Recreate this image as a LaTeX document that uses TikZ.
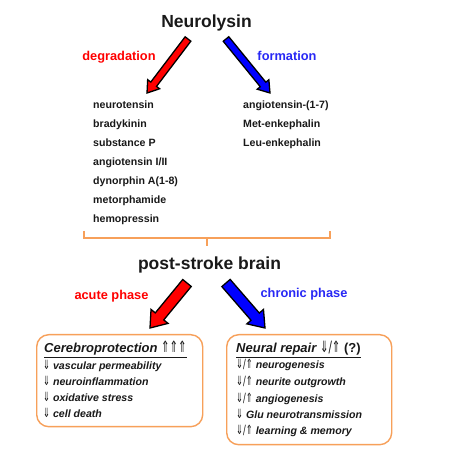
\documentclass[tikz,border=0pt]{standalone}
\usepackage{fontspec}
\setmainfont{Liberation Sans}
\newfontfamily\dvs{DejaVu Sans}
\usetikzlibrary{calc}
\definecolor{myorange}{RGB}{247,160,90}
\definecolor{myred}{RGB}{255,0,0}
\definecolor{myblue}{RGB}{40,40,245}
\definecolor{mytext}{RGB}{25,25,25}
\newcommand\arr[1]{{\dvs\upshape\mdseries\scalebox{0.78}[1.2]{#1}}}
\newcommand\blockarrow[6]{%
  \coordinate (hb) at ($(#2)!#5!(#1)$);
  \filldraw[arrowline, fill=#6] ($(#1)!#3!90:(#2)$) -- ($(hb)!#3!90:(#2)$) -- ($(hb)!#4!90:(#2)$) -- (#2) -- ($(hb)!#4!-90:(#2)$) -- ($(hb)!#3!-90:(#2)$) -- ($(#1)!#3!-90:(#2)$) -- cycle;}
\begin{document}
\begin{tikzpicture}[x=1pt,y=-1pt,
  arrowline/.style={draw=black, line width=1.3pt, line join=miter},
  title/.style={anchor=base, inner sep=0pt, text=mytext, font=\fontsize{17.5}{20}\selectfont\bfseries},
  lbl/.style={anchor=base, inner sep=0pt, font=\fontsize{12.8}{15}\selectfont\bfseries},
  item/.style={anchor=base west, inner sep=0pt, text=mytext, font=\fontsize{10.6}{12}\selectfont\bfseries},
  bitem/.style={anchor=base west, inner sep=0pt, text=mytext, font=\fontsize{10.6}{12}\selectfont\bfseries\itshape},
  btitle/.style={anchor=base west, inner sep=0pt, text=mytext, font=\fontsize{13}{15}\selectfont\bfseries\itshape},
  boxst/.style={draw=myorange, line width=1.4pt, rounded corners=12pt, anchor=north west, inner sep=0pt},
  brace/.style={draw=myorange, line width=1.4pt}
]
\useasboundingbox (0,0) rectangle (451,449);
\fill[white] (0,0) rectangle (451,449);

\node[title] (neuro) at (206.5,28) {Neurolysin};
\node[lbl, text=myred] (degr) at (119,61) {degradation};
\node[lbl, text=myblue] (form) at (287,61) {formation};

\coordinate (ra1) at (188,39);
\coordinate (ra2) at (147,93);
\coordinate (ba1) at (226,39);
\coordinate (ba2) at (270,93);
\blockarrow{ra1}{ra2}{3.6pt}{7.5pt}{11pt}{myred}
\blockarrow{ba1}{ba2}{3.6pt}{7.5pt}{11pt}{blue}

\node[item] (l1) at (93,109) {neurotensin};
\node[item] (l2) at (93,128) {bradykinin};
\node[item] (l3) at (93,147) {substance P};
\node[item] (l4) at (93,166) {angiotensin I/II};
\node[item] (l5) at (93,185) {dynorphin A(1-8)};
\node[item] (l6) at (93,204) {metorphamide};
\node[item] (l7) at (93,223) {hemopressin};

\node[item] (r1) at (243,109) {angiotensin-(1-7)};
\node[item] (r2) at (243,128) {Met-enkephalin};
\node[item] (r3) at (243,147) {Leu-enkephalin};

\coordinate (bl) at (84,231);
\coordinate (br) at (330,231);
\coordinate (bm) at (207,246);
\draw[brace] (bl) -- (84,238) -- (330,238) -- (br);
\draw[brace] (207,238) -- (bm);

\node[title] (psb) at (209.5,270) {post-stroke brain};
\node[lbl, text=myred] (acute) at (111.5,300) {acute phase};
\node[lbl, text=myblue] (chronic) at (304,298) {chronic phase};

\coordinate (ra3) at (187,283);
\coordinate (ra4) at (150,328);
\coordinate (ba3) at (226,283);
\coordinate (ba4) at (265,328);
\blockarrow{ra3}{ra4}{5.5pt}{11pt}{15pt}{myred}
\blockarrow{ba3}{ba4}{5.5pt}{11pt}{15pt}{blue}

\node[boxst, minimum width=166pt, minimum height=92pt] (acbox) at (36,334) {};
\node[boxst, minimum width=165pt, minimum height=110pt] (chbox) at (226,334) {};

\node[btitle] (c0) at (44,353) {\underline{Cerebroprotection \arr{⇑⇑⇑}}};
\node[bitem] (c1) at (43,370) {\arr{⇓} vascular permeability};
\node[bitem] (c2) at (43,386) {\arr{⇓} neuroinflammation};
\node[bitem] (c3) at (43,402) {\arr{⇓} oxidative stress};
\node[bitem] (c4) at (43,418) {\arr{⇓} cell death};

\node[btitle] (n0) at (236,353) {\underline{Neural repair \arr{⇓/⇑} {\upshape(?)}}};
\node[bitem] (n1) at (236,369) {\arr{⇓/⇑} neurogenesis};
\node[bitem] (n2) at (236,386) {\arr{⇓/⇑} neurite outgrowth};
\node[bitem] (n3) at (236,403) {\arr{⇓/⇑} angiogenesis};
\node[bitem] (n4) at (236,419) {\arr{⇓} Glu neurotransmission};
\node[bitem] (n5) at (236,435) {\arr{⇓/⇑} learning \& memory};
\end{tikzpicture}
\end{document}
